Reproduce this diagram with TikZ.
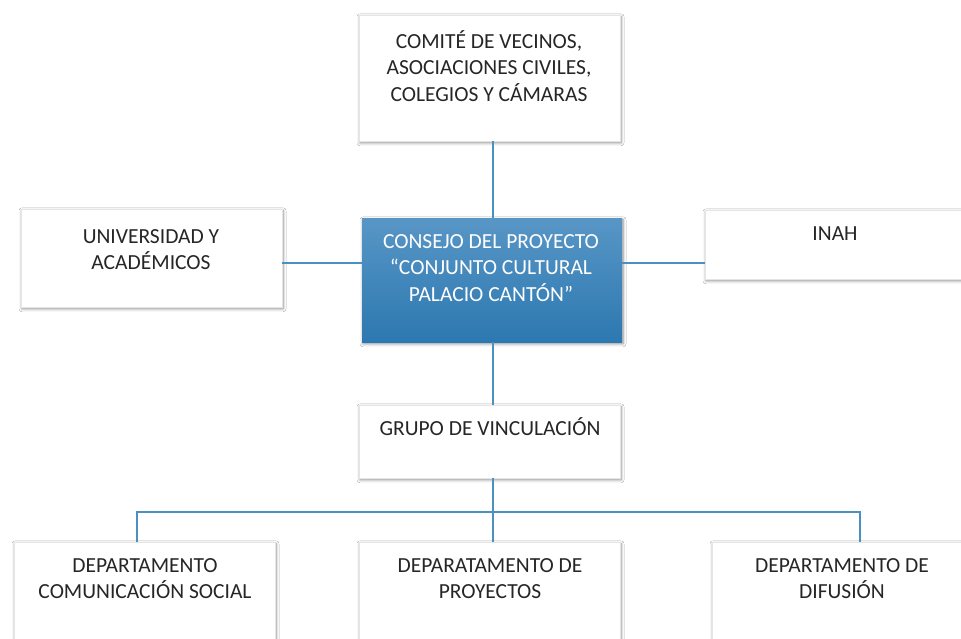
\documentclass[tikz,border=0pt]{standalone}
\usepackage{fontspec}
\setmainfont{Carlito}
\usetikzlibrary{shadows.blur}
\definecolor{linkblue}{RGB}{74,144,192}
\definecolor{ctop}{RGB}{88,150,198}
\definecolor{cbot}{RGB}{44,120,176}
\definecolor{txt}{RGB}{38,38,38}
\tikzset{
  boxw/.style={draw=black!10, line width=0.4pt, fill=white, inner sep=0pt, anchor=north west,
     blur shadow={shadow xshift=0.8pt, shadow yshift=-1.6pt, shadow blur steps=6, shadow opacity=45, shadow blur radius=3pt}},
  boxc/.style={boxw, draw=none, top color=ctop, bottom color=cbot},
  lbl/.style={inner sep=0pt, anchor=north, align=center, text=txt, font=\fontsize{21.5}{26.5}\selectfont},
  wlbl/.style={lbl, text=white},
  link/.style={draw=linkblue, line width=1.8pt},
}
\newcommand{\fs}{\rule{0pt}{19pt}}
\begin{document}
\begin{tikzpicture}[x=1pt,y=-1pt]
\clip (0,0) rectangle (961,639);
\fill[white] (0,0) rectangle (961,639);
% boxes
\node[boxw, minimum width=261pt, minimum height=126pt] (top) at (359,15) {};
\node[boxw, minimum width=261pt, minimum height=98pt] (left) at (21,209) {};
\node[boxc, minimum width=260pt, minimum height=124pt] (center) at (362,218) {};
\node[boxw, minimum width=262pt, minimum height=69pt] (right) at (705,210) {};
\node[boxw, minimum width=261pt, minimum height=73pt] (grupo) at (359,405) {};
\node[boxw, minimum width=261pt, minimum height=120pt] (dleft) at (14,542) {};
\node[boxw, minimum width=261pt, minimum height=120pt] (dmid) at (359,542) {};
\node[boxw, minimum width=261pt, minimum height=120pt] (dright) at (712,542) {};
% labels
\node[lbl] (ttop) at (489,29) {\fs COMITÉ DE VECINOS,\\ASOCIACIONES CIVILES,\\COLEGIOS Y CÁMARAS};
\node[lbl] (tleft) at (151,224) {\fs UNIVERSIDAD Y\\ACADÉMICOS};
\node[wlbl] (tcenter) at (491,229) {\fs CONSEJO DEL PROYECTO\\“CONJUNTO CULTURAL\\PALACIO CANTÓN”};
\node[lbl] (tright) at (835,221) {\fs INAH};
\node[lbl] (tgrupo) at (490,416) {\fs GRUPO DE VINCULACIÓN};
\node[lbl] (tdleft) at (145,553) {\fs DEPARTAMENTO\\COMUNICACIÓN SOCIAL};
\node[lbl] (tdmid) at (490,553) {\fs DEPARATAMENTO DE\\PROYECTOS};
\node[lbl] (tdright) at (842,553) {\fs DEPARTAMENTO DE\\DIFUSIÓN};
% connectors
\coordinate (cx) at (493,0);
\coordinate (hy) at (0,263);
\coordinate (bl) at (137,512);
\coordinate (br) at (860,512);
\draw[link] (top.south -| cx) -- (center.north -| cx);
\draw[link] (left.east |- hy) -- (center.west |- hy);
\draw[link] (center.east |- hy) -- (right.west |- hy);
\draw[link] (center.south -| cx) -- (grupo.north -| cx);
\draw[link] (grupo.south -| cx) -- (cx |- bl);
\draw[link] (bl |- dleft.north) -- (bl) -- (br) -- (br |- dright.north);
\draw[link] (cx |- bl) -- (dmid.north -| cx);
\end{tikzpicture}
\end{document}
